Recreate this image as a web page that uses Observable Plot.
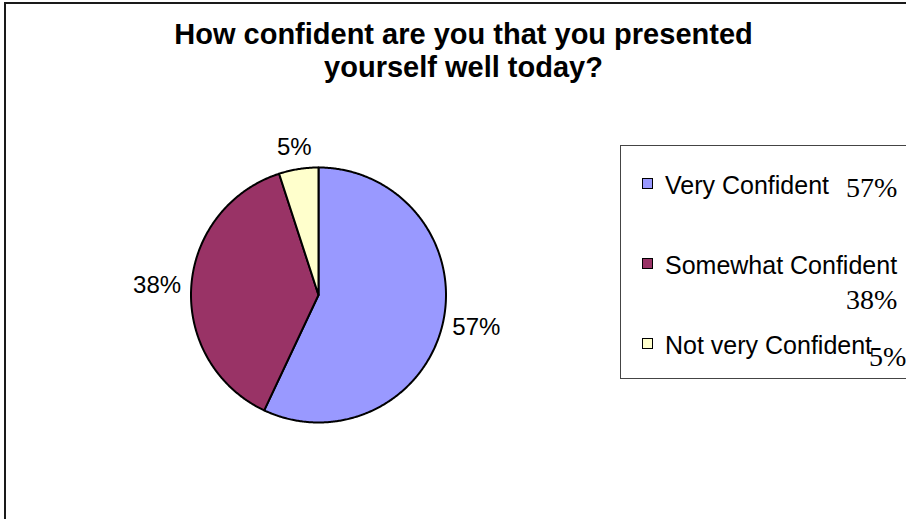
<!DOCTYPE html>
<html>
<head>
<meta charset="utf-8">
<script src="https://cdn.jsdelivr.net/npm/d3@7"></script>
<script src="https://cdn.jsdelivr.net/npm/@observablehq/plot@0.6"></script>
<style>
  html, body { margin: 0; padding: 0; overflow: hidden; background: #fff; }
  #chart { position: relative; width: 906px; height: 519px; overflow: hidden; background: #fff;
           font-family: "Liberation Sans", Arial, sans-serif; }
  #frame { position: absolute; left: 4px; top: 2px; width: 2000px; height: 2000px;
           border: 2px solid #1a1a1a; box-sizing: border-box; }
  #plot { position: absolute; left: 0; top: 0; }
  #title { position: absolute; left: 0; top: 18px; width: 927px; text-align: center;
           font-weight: bold; font-size: 29px; line-height: 33px; color: #000; }
  #legend { position: absolute; left: 620px; top: 145px; width: 400px; height: 234px;
            border: 1.5px solid #444; box-sizing: border-box; }
  .sq { position: absolute; width: 11px; height: 11px; border: 1px solid #000; box-sizing: border-box; }
  .lt { position: absolute; font-size: 25px; line-height: 25px; white-space: nowrap; color: #000; }
  .lp { position: absolute; font-family: "Liberation Serif", "Times New Roman", serif;
        font-size: 28px; line-height: 28px; white-space: nowrap; color: #000; }
</style>
</head>
<body>
<div id="chart">
  <div id="frame"></div>
  <div id="plot"></div>
  <div id="title">How confident are you that you presented<br>yourself well today?</div>
</div>
<script>
// ---- data ----
const categories = ["Very Confident", "Somewhat Confident", "Not very Confident"];
const values = [57, 38, 5];
const colors = ["#9999FF", "#993366", "#FFFFCC"];
const labels = ["57%", "38%", "5%"];

// ---- layout ----
const cx = 318, cy = 294.5, r = 127.5;

const arcs = d3.pie().sort(null).value(d => d)(values);

// polygon outline for each slice (angles clockwise from 12 o'clock)
const piePts = [];
arcs.forEach((a, i) => {
  const key = categories[i];
  piePts.push({key, x: 0, y: 0});
  const n = Math.max(2, Math.ceil((a.endAngle - a.startAngle) / (Math.PI / 360)));
  for (let k = 0; k <= n; k++) {
    const t = a.startAngle + (a.endAngle - a.startAngle) * k / n;
    piePts.push({key, x: Math.sin(t), y: Math.cos(t)});
  }
  piePts.push({key, x: 0, y: 0});
});

// data labels placed just outside the rim, offset by half their box
const fs = 24;
const labelPts = arcs.map((a, i) => {
  const m = (a.startAngle + a.endAngle) / 2;
  const s = Math.sin(m), c = Math.cos(m);
  const txt = labels[i];
  const w = (txt.length - 1) * 0.556 * fs + 0.889 * fs;
  const h = fs;
  const k = 1.08;
  return {
    label: txt,
    x: k * s + (s * w / 2) / r,
    y: k * c + (c * h / 2) / r
  };
});

const plot = Plot.plot({
  width: 906,
  height: 519,
  margin: 0,
  x: {domain: [-1, 1], range: [cx - r, cx + r], axis: null},
  y: {domain: [-1, 1], range: [cy + r, cy - r], axis: null},
  color: {domain: categories, range: colors},
  style: {background: "transparent", fontFamily: "'Liberation Sans', Arial, sans-serif", overflow: "visible"},
  marks: [
    Plot.line(piePts, {x: "x", y: "y", z: "key", fill: "key", stroke: "#000", strokeWidth: 2,
                       strokeLinejoin: "round", curve: "linear"}),
    Plot.text(labelPts, {x: "x", y: "y", text: "label", fontSize: fs, fill: "#000",
                         textAnchor: "middle", lineAnchor: "middle"})
  ]
});
document.getElementById("plot").appendChild(plot);

// ---- legend (HTML, built from the arrays) ----
const legend = document.createElement("div");
legend.id = "legend";
document.getElementById("chart").appendChild(legend);
const L = 620, T = 145;
const pctLayout = [{x: 845, dy: 3}, {x: 845, dy: 35}, {x: 868, dy: 12}];
categories.forEach((cat, i) => {
  const base = 193 + 80 * i;
  const sq = document.createElement("div");
  sq.className = "sq";
  sq.style.background = colors[i];
  sq.style.left = (641 - L) + "px";
  sq.style.top = (base - 16 - T) + "px";
  legend.appendChild(sq);

  const t = document.createElement("div");
  t.className = "lt";
  t.textContent = cat;
  t.style.left = (664 - L) + "px";
  t.style.top = (base - 0.8465 * 25 - T) + "px";
  legend.appendChild(t);

  const p = document.createElement("div");
  p.className = "lp";
  p.textContent = labels[i];
  p.style.left = (pctLayout[i].x - L) + "px";
  p.style.top = (base + pctLayout[i].dy - 0.8375 * 28 - T) + "px";
  legend.appendChild(p);
});
</script>
</body>
</html>
